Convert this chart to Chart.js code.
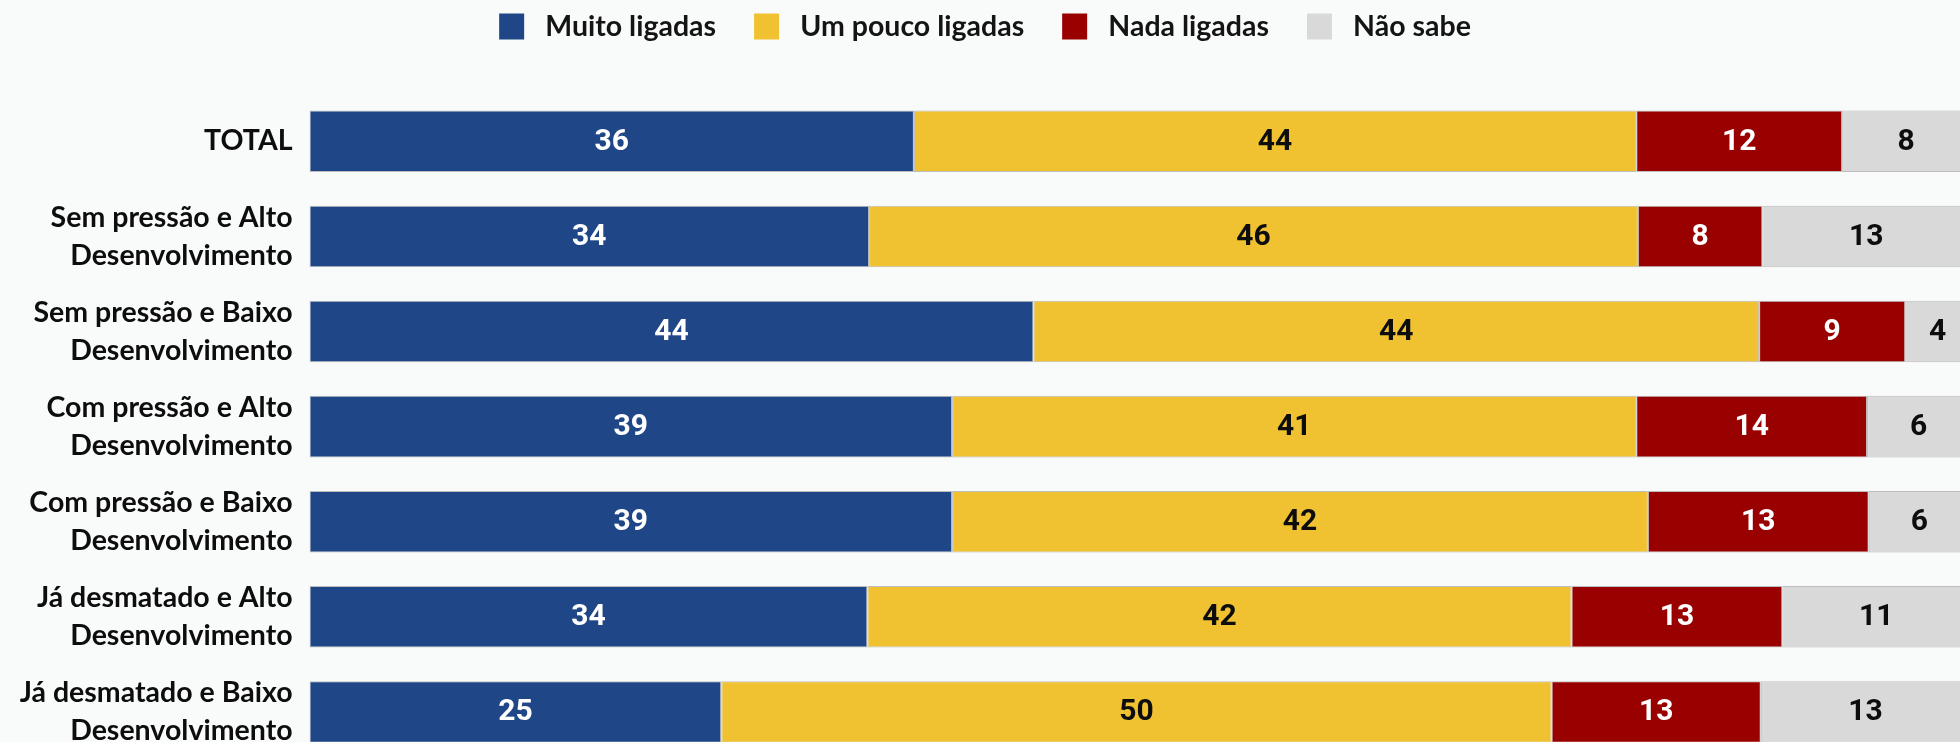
<!DOCTYPE html>
<html lang="pt-BR">
<head>
<meta charset="utf-8">
<title>Ligação</title>
<script src="https://cdn.jsdelivr.net/npm/chart.js@4.4.1/dist/chart.umd.min.js"></script>
<style>
  html, body { margin: 0; padding: 0; background: #f9fafa; overflow: hidden; }
  #grafik { display: block; }
</style>
</head>
<body>
<canvas id="grafik" width="1980" height="770"></canvas>
<script>
var kategori = [
	'TOTAL',
	['Sem pressão e Alto', 'Desenvolvimento'],
	['Sem pressão e Baixo', 'Desenvolvimento'],
	['Com pressão e Alto', 'Desenvolvimento'],
	['Com pressão e Baixo', 'Desenvolvimento'],
	['Já desmatado e Alto', 'Desenvolvimento'],
	['Já desmatado e Baixo', 'Desenvolvimento']
];

// bar lengths (%)
var muitoLigadas   = [36.4, 33.7, 43.6, 38.7, 38.7, 33.6, 24.8];
var umPoucoLigadas = [43.5, 46.3, 43.7, 41.2, 41.9, 42.4, 50.0];
var nadaLigadas    = [12.4,  7.5,  8.8, 13.9, 13.3, 12.7, 12.6];
var naoSabe        = [ 7.7, 12.5,  3.9,  6.2,  6.1, 11.3, 12.6];

// numbers printed on the bars
var rotuloMuito   = [36, 34, 44, 39, 39, 34, 25];
var rotuloPouco   = [44, 46, 44, 41, 42, 42, 50];
var rotuloNada    = [12,  8,  9, 14, 13, 13, 13];
var rotuloNaoSabe = [ 8, 13,  4,  6,  6, 11, 13];

var warna = {
	biru: '#1f4788',
	kuning: '#f0c232',
	merah: '#990000',
	abu: '#d9d9d9'
};

var rotuloPlugin = {
	id: 'rotulo',
	afterDatasetsDraw: function(chart) {
		var ctx = chart.ctx;
		ctx.save();
		ctx.font = 'bold 30px Roboto';
		ctx.textAlign = 'center';
		ctx.textBaseline = 'middle';
		chart.data.datasets.forEach(function(dataset, i) {
			var meta = chart.getDatasetMeta(i);
			if (meta.hidden) return;
			ctx.fillStyle = dataset.warnaTeks;
			meta.data.forEach(function(bar, j) {
				ctx.fillText(String(dataset.rotulo[j]), (bar.x + bar.base) / 2, bar.y + 1);
			});
		});
		ctx.restore();
	}
};

// legend is taller than Chart.js makes it
var legendTinggi = {
	id: 'legendTinggi',
	beforeInit: function(chart) {
		var fitAsli = chart.legend.fit;
		chart.legend.fit = function() {
			fitAsli.bind(chart.legend)();
			this.height = 119.5;
		};
	}
};

function bikinDataset(label, data, rotulo, bg, teks) {
	return {
		label: label,
		data: data,
		rotulo: rotulo,
		warnaTeks: teks,
		backgroundColor: bg,
		borderColor: '#bdbdbd',
		borderWidth: 1,
		borderSkipped: false,
		barPercentage: 0.647,
		categoryPercentage: 1.0
	};
}

function gambar() {
	new Chart(document.getElementById('grafik'), {
		type: 'bar',
		data: {
			labels: kategori,
			datasets: [
				bikinDataset('Muito ligadas', muitoLigadas, rotuloMuito, warna.biru, '#ffffff'),
				bikinDataset('Um pouco ligadas', umPoucoLigadas, rotuloPouco, warna.kuning, '#0d0d0d'),
				bikinDataset('Nada ligadas', nadaLigadas, rotuloNada, warna.merah, '#ffffff'),
				bikinDataset('Não sabe', naoSabe, rotuloNaoSabe, warna.abu, '#0d0d0d')
			]
		},
		options: {
			indexAxis: 'y',
			responsive: false,
			animation: false,
			devicePixelRatio: 1,
			layout: {
				padding: { top: -25.75, left: 0, right: 10, bottom: 10.5 }
			},
			scales: {
				x: { stacked: true, display: false, min: 0, max: 100 },
				y: {
					stacked: true,
					grid: { display: false, drawTicks: false },
					border: { display: false },
					ticks: {
						padding: 17,
						color: '#0d0d0d',
						font: { family: 'Lato', weight: 'bold', size: 28.5, lineHeight: '38px' }
					},
					afterFit: function(scale) {
						scale.width = 309.5;
						scale.paddingTop = 0;
						scale.paddingBottom = 0;
					}
				}
			},
			plugins: {
				legend: {
					position: 'top',
					labels: {
						boxWidth: 25,
						boxHeight: 26,
						padding: 38,
						color: '#141414',
						font: { family: 'Lato', weight: 'bold', size: 28.5 },
						generateLabels: function(chart) {
							var items = Chart.defaults.plugins.legend.labels.generateLabels(chart);
							items.forEach(function(it) {
								it.text = ' ' + it.text;
								it.lineWidth = 0;
							});
							return items;
						}
					}
				},
				tooltip: { enabled: false }
			}
		},
		plugins: [rotuloPlugin, legendTinggi]
	});
}

Promise.all([
	document.fonts.load('bold 28.5px Lato'),
	document.fonts.load('bold 30px Roboto')
]).then(gambar, gambar);
</script>
</body>
</html>
